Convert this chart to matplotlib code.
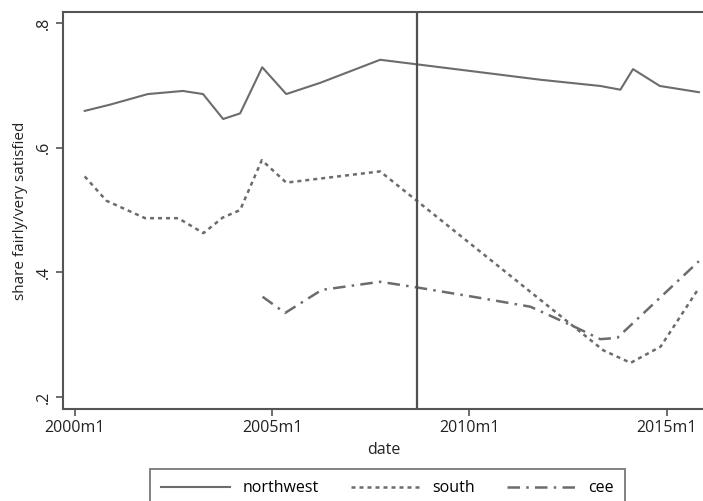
import matplotlib
matplotlib.use("Agg")
import matplotlib.pyplot as plt

plt.rcParams['font.family'] = ['Open Sans', 'DejaVu Sans']

# dates as decimal years
nw_date = [2000.25, 2000.89, 2001.85, 2002.74, 2003.25, 2003.76, 2004.19, 2004.75,
           2005.36, 2006.22, 2007.74, 2009.52, 2010.79, 2011.80, 2013.32, 2013.83,
           2014.15, 2014.83, 2015.82]
nw_share = [0.659, 0.669, 0.686, 0.691, 0.686, 0.646, 0.655, 0.729,
            0.686, 0.704, 0.741, 0.727, 0.717, 0.709, 0.699, 0.693,
            0.726, 0.699, 0.689]

south_date = [2000.25, 2000.80, 2001.78, 2002.62, 2003.26, 2003.75, 2004.19, 2004.74,
              2005.36, 2007.74, 2013.40, 2014.09, 2014.85, 2015.82]
south_share = [0.554, 0.515, 0.487, 0.487, 0.463, 0.488, 0.500, 0.580,
               0.544, 0.562, 0.275, 0.255, 0.281, 0.375]

cee_date = [2004.76, 2005.33, 2006.26, 2007.74, 2008.67, 2010.28, 2011.55, 2012.73,
            2013.32, 2013.75, 2015.82]
cee_share = [0.361, 0.335, 0.372, 0.385, 0.376, 0.359, 0.345, 0.311,
             0.293, 0.295, 0.418]

crisis = 2008.68
xtick_pos = [2000, 2005, 2010, 2015]
xtick_lab = ["2000m1", "2005m1", "2010m1", "2015m1"]
ytick_pos = [0.2, 0.4, 0.6, 0.8]
ytick_lab = [".2", ".4", ".6", ".8"]

line_col = "#6c6c6c"
axis_col = "#555555"

fig = plt.figure(figsize=(7.03, 5.01), dpi=100)
ax = fig.add_axes([63 / 703, 1 - 409 / 501, 1 - 63 / 703 + 0.002, (409 - 12) / 501])

ax.plot(nw_date, nw_share, color=line_col, lw=1.5, label="northwest")
ax.plot(south_date, south_share, color=line_col, lw=1.8, linestyle=(0, (1.6, 1.6)),
        label="south")
ax.plot(cee_date, cee_share, color=line_col, lw=1.8,
        linestyle=(0, (5, 2.5, 1, 2.5)), label="cee")
ax.axvline(crisis, color="#505050", lw=1.6)

ax.set_xlim(1999.70, 2015.96)
ax.set_ylim(0.181, 0.8176)
ax.set_xticks(xtick_pos)
ax.set_xticklabels(xtick_lab, fontsize=11.5)
ax.set_yticks(ytick_pos)
ax.set_yticklabels(ytick_lab, fontsize=11.5, rotation=90, va="center")
ax.tick_params(colors=axis_col, labelcolor="#222222", length=5, width=1.2, pad=3)
ax.set_xlabel("date", fontsize=11.5, color="#222222", labelpad=4)
ax.set_ylabel("share fairly/very satisfied", fontsize=11, color="#222222", labelpad=6)

for side in ["left", "top", "bottom"]:
    ax.spines[side].set_color(axis_col)
    ax.spines[side].set_linewidth(1.5)
ax.spines["right"].set_visible(False)

leg = fig.legend(loc="upper left", bbox_to_anchor=(150 / 703, 1 - 469 / 501),
                 ncol=3, frameon=True, fancybox=False, fontsize=11.5,
                 handlelength=4.3, columnspacing=2.0, borderpad=0.7,
                 borderaxespad=0, handletextpad=0.8)
leg.get_frame().set_edgecolor(axis_col)
leg.get_frame().set_linewidth(1.3)

fig.savefig("out.png", dpi=100)
